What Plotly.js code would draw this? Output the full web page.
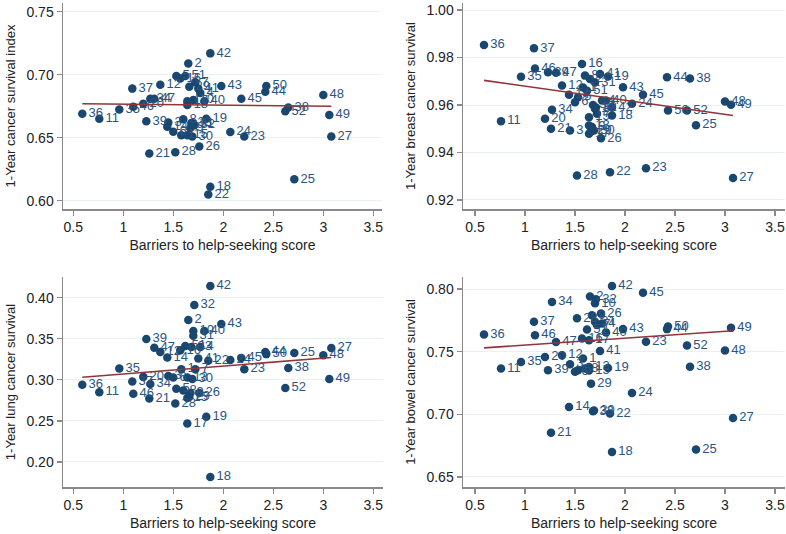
<!DOCTYPE html>
<html>
<head>
<meta charset="utf-8">
<script src="https://cdn.plot.ly/plotly-3.0.1.min.js"></script>
<style>html,body{margin:0;padding:0;background:#fff}#chart{width:786px;height:534px}</style>
</head>
<body>
<div id="chart"></div>
<script>
// Area labels 1..52
const areaLabels = Array.from({length: 52}, (_, i) => String(i + 1));

// Barriers to help-seeking score (same for all panels), areas 1..52
const barriers = [
  1.58, 1.65, 1.45, 1.77, 1.53, 1.50, 1.72, 1.60, 1.67, 1.70,
  0.76, 1.37, 1.64, 1.44, 1.64, 1.57, 1.64, 1.87, 1.83, 1.20,
  1.26, 1.85, 2.21, 2.07, 2.71, 1.76, 3.08, 1.52, 1.66, 1.69,
  1.70, 1.71, 1.68, 1.27, 0.96, 0.59, 1.09, 2.65, 1.23, 1.81,
  1.75, 1.87, 1.98, 2.42, 2.18, 1.10, 1.31, 3.00, 3.06, 2.43,
  1.62, 2.62
];

// 1-Year cancer survival index
const survivalIndex = [
  0.652, 0.709, 0.662, 0.6855, 0.699, 0.6548, 0.694, 0.6646, 0.6577, 0.680,
  0.665, 0.692, 0.676, 0.6587, 0.652, 0.697, 0.679, 0.611, 0.665, 0.677,
  0.6375, 0.605, 0.651, 0.6545, 0.617, 0.643, 0.651, 0.6385, 0.6905, 0.651,
  0.6614, 0.660, 0.6617, 0.681, 0.6725, 0.669, 0.689, 0.674, 0.663, 0.679,
  0.689, 0.717, 0.691, 0.6865, 0.681, 0.6746, 0.681, 0.684, 0.668, 0.691,
  0.699, 0.671
];

// 1-Year breast cancer survival
const breastSurvival = [
  0.9674, 0.9710, 0.9493, 0.9619, 0.9633, 0.9612, 0.9563, 0.9724, 0.9507, 0.9584,
  0.9532, 0.9682, 0.9514, 0.9643, 0.9549, 0.9773, 0.9479, 0.9556, 0.9720, 0.9542,
  0.9500, 0.9317, 0.9334, 0.9605, 0.9515, 0.9460, 0.9293, 0.9303, 0.9490, 0.9493,
  0.9695, 0.9590, 0.9600, 0.9580, 0.9719, 0.9853, 0.9839, 0.9712, 0.9738, 0.9619,
  0.9731, 0.9590, 0.9675, 0.9717, 0.9643, 0.9754, 0.9736, 0.9615, 0.9601, 0.9577,
  0.9660, 0.9577
];

// 1-Year lung cancer survival
const lungSurvival = [
  0.313, 0.3728, 0.3047, 0.340, 0.289, 0.3028, 0.313, 0.287, 0.284, 0.3594,
  0.285, 0.334, 0.3028, 0.3273, 0.278, 0.336, 0.2468, 0.1817, 0.2549, 0.3036,
  0.2773, 0.3232, 0.313, 0.324, 0.3326, 0.284, 0.3387, 0.2712, 0.279, 0.301,
  0.3537, 0.391, 0.340, 0.295, 0.3139, 0.294, 0.298, 0.3143, 0.3496, 0.3594,
  0.326, 0.4143, 0.368, 0.3338, 0.3265, 0.283, 0.339, 0.330, 0.301, 0.3313,
  0.3412, 0.290
];

// 1-Year bowel cancer survival
const bowelSurvival = [
  0.7445, 0.794, 0.740, 0.7725, 0.7352, 0.7339, 0.7712, 0.7365, 0.779, 0.7886,
  0.7366, 0.7472, 0.7378, 0.7058, 0.7350, 0.7605, 0.7592, 0.670, 0.737, 0.7458,
  0.6853, 0.7006, 0.758, 0.717, 0.672, 0.7805, 0.697, 0.7766, 0.7245, 0.703,
  0.7738, 0.7918, 0.7024, 0.7896, 0.7418, 0.7638, 0.7738, 0.738, 0.7352, 0.7654,
  0.7506, 0.8024, 0.768, 0.768, 0.797, 0.7632, 0.7578, 0.751, 0.769, 0.770,
  0.7677, 0.755
];

// Fitted-line values at the lowest and highest barrier score
const fitIndex  = [0.677, 0.675];
const fitBreast = [0.9704, 0.9556];
const fitLung   = [0.3032, 0.3271];
const fitBowel  = [0.753, 0.7667];

const yTitles = ['1-Year cancer survival index', '1-Year breast cancer survival',
                 '1-Year lung cancer survival', '1-Year bowel cancer survival'];
const xTitle = 'Barriers to help-seeking score';

const navy = '#1a476f';
const maroon = '#90353b';
const fitX = [Math.min(...barriers), Math.max(...barriers)];

const series = [survivalIndex, breastSurvival, lungSurvival, bowelSurvival];
const fits = [fitIndex, fitBreast, fitLung, fitBowel];

const traces = [];
series.forEach((ys, i) => {
  const xa = i === 0 ? 'x' : 'x' + (i + 1);
  const ya = i === 0 ? 'y' : 'y' + (i + 1);
  traces.push({
    type: 'scatter', mode: 'markers+text', x: barriers, y: ys, text: areaLabels,
    textposition: 'middle right', textfont: {size: 13, color: '#2b5580', family: 'Liberation Sans, Arial, sans-serif'},
    marker: {size: 8.5, color: navy}, xaxis: xa, yaxis: ya, cliponaxis: false, hoverinfo: 'skip'
  });
  traces.push({
    type: 'scatter', mode: 'lines', x: fitX, y: fits[i],
    line: {color: maroon, width: 1.6}, xaxis: xa, yaxis: ya, hoverinfo: 'skip'
  });
});

const W = 786, H = 534;
const dx = (a, b) => [a / W, b / W];
const dy = (top, bottom) => [1 - bottom / H, 1 - top / H];

const axisCommon = {
  showline: true, linecolor: '#8a8a8a', linewidth: 1.5,
  ticks: 'outside', ticklen: 5, tickwidth: 1.3, tickcolor: '#8a8a8a',
  zeroline: false, tickfont: {size: 14, color: '#222'}
};
function xAxis(domain, range, anchor) {
  return Object.assign({}, axisCommon, {
    domain, range, anchor, tick0: 0.5, dtick: 0.5, showgrid: false,
    title: {text: xTitle, font: {size: 14, color: '#222'}, standoff: 6}
  });
}
function yAxis(domain, range, dtick, anchor, title) {
  return Object.assign({}, axisCommon, {
    domain, range, anchor, dtick, tickformat: '.2f', showgrid: true,
    gridcolor: '#e9f1f3', gridwidth: 1,
    title: {text: title, font: {size: 13, color: '#222'}, standoff: 8}
  });
}

const layout = {
  width: W, height: H, margin: {l: 0, r: 0, t: 0, b: 0},
  paper_bgcolor: '#fff', plot_bgcolor: '#fff', showlegend: false,
  font: {family: 'Liberation Sans, Arial, sans-serif', color: '#222'},
  xaxis:  xAxis(dx(63, 382), [0.397, 3.587], 'y'),
  yaxis:  yAxis(dy(3, 209), [0.5934, 0.757], 0.05, 'x', yTitles[0]),
  xaxis2: xAxis(dx(463, 785), [0.38, 3.60], 'y2'),
  yaxis2: yAxis(dy(3, 209), [0.9162, 1.003], 0.02, 'x2', yTitles[1]),
  xaxis3: xAxis(dx(63, 383), [0.397, 3.597], 'y3'),
  yaxis3: yAxis(dy(277, 487), [0.1695, 0.4252], 0.05, 'x3', yTitles[2]),
  xaxis4: xAxis(dx(463, 785), [0.38, 3.60], 'y4'),
  yaxis4: yAxis(dy(277, 487), [0.642, 0.8096], 0.05, 'x4', yTitles[3])
};

Plotly.newPlot('chart', traces, layout, {staticPlot: true, displayModeBar: false});
</script>
</body>
</html>
